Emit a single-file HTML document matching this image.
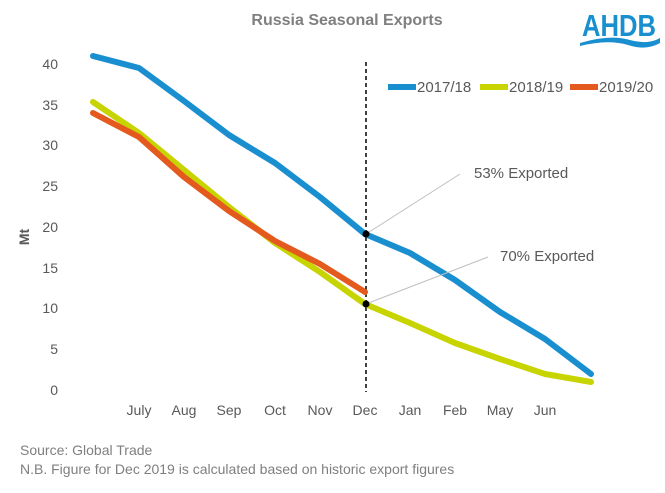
<!DOCTYPE html>
<html><head><meta charset="utf-8"><style>
body{margin:0;background:#fff;}
text{font-family:"Liberation Sans",Arial,sans-serif;}
</style></head><body>
<svg width="665" height="488" viewBox="0 0 665 488" xmlns="http://www.w3.org/2000/svg">
<rect width="665" height="488" fill="#fff"/>
<text x="347" y="25" text-anchor="middle" font-size="16" font-weight="bold" fill="#7f7f7f">Russia Seasonal Exports</text>
<text x="619" y="36" text-anchor="middle" font-size="31" font-weight="bold" fill="#1a8fd0" textLength="74" lengthAdjust="spacingAndGlyphs">AHDB</text>
<path d="M580 43 Q610 34 630 40 Q648 45 660 38 L660 43 Q646 51 628 45 Q608 39 580 46 Z" fill="#1a8fd0"/>
<g font-size="14" fill="#595959" text-anchor="end">
<text x="58" y="395">0</text><text x="58" y="354">5</text><text x="58" y="313">10</text><text x="58" y="273">15</text><text x="58" y="232">20</text><text x="58" y="191">25</text><text x="58" y="150">30</text><text x="58" y="110">35</text><text x="58" y="69">40</text>
</g>
<text x="29" y="237" font-size="14" font-weight="bold" fill="#595959" transform="rotate(-90 29 237)" text-anchor="middle">Mt</text>
<g font-size="14" fill="#595959" text-anchor="middle">
<text x="139" y="415">July</text><text x="184" y="415">Aug</text><text x="229" y="415">Sep</text><text x="275" y="415">Oct</text><text x="320" y="415">Nov</text><text x="365" y="415">Dec</text><text x="410" y="415">Jan</text><text x="455" y="415">Feb</text><text x="500" y="415">May</text><text x="545" y="415">Jun</text>
</g>
<line x1="366" y1="62" x2="366" y2="392" stroke="#000" stroke-width="1.5" stroke-dasharray="4,3"/>
<polyline fill="none" stroke="#1a8fd0" stroke-width="6" stroke-linejoin="round" stroke-linecap="round" points="93,56 139,68 184,101 229,135 275,163 320,197 365,234 410,253 455,280 500,312 545,339 591,374"/>
<polyline fill="none" stroke="#c8d400" stroke-width="6" stroke-linejoin="round" stroke-linecap="round" points="93,102 139,133 184,170 229,207 275,243 320,272 365,304 410,323 455,343 500,359 545,374 591,382"/>
<polyline fill="none" stroke="#e4591e" stroke-width="6" stroke-linejoin="round" stroke-linecap="round" points="93,113 139,137 184,177 229,211 275,241 320,264 365,292"/>
<line x1="366" y1="234" x2="460" y2="174" stroke="#bfbfbf" stroke-width="1"/>
<line x1="366" y1="304" x2="488" y2="257" stroke="#bfbfbf" stroke-width="1"/>
<circle cx="366" cy="234" r="3.5" fill="#000"/>
<circle cx="366" cy="304" r="3.5" fill="#000"/>
<text x="474" y="178" font-size="15" fill="#595959">53% Exported</text>
<text x="500" y="261" font-size="15" fill="#595959">70% Exported</text>
<g font-size="15" fill="#595959">
<line x1="388" y1="87" x2="416" y2="87" stroke="#1a8fd0" stroke-width="6"/><text x="417" y="92">2017/18</text>
<line x1="480" y1="87" x2="508" y2="87" stroke="#c8d400" stroke-width="6"/><text x="509" y="92">2018/19</text>
<line x1="570" y1="87" x2="598" y2="87" stroke="#e4591e" stroke-width="6"/><text x="599" y="92">2019/20</text>
</g>
<text x="20" y="455" font-size="14" fill="#7f7f7f">Source: Global Trade</text>
<text x="20" y="474" font-size="14" fill="#7f7f7f">N.B. Figure for Dec 2019 is calculated based on historic export figures</text>
</svg>
</body></html>
